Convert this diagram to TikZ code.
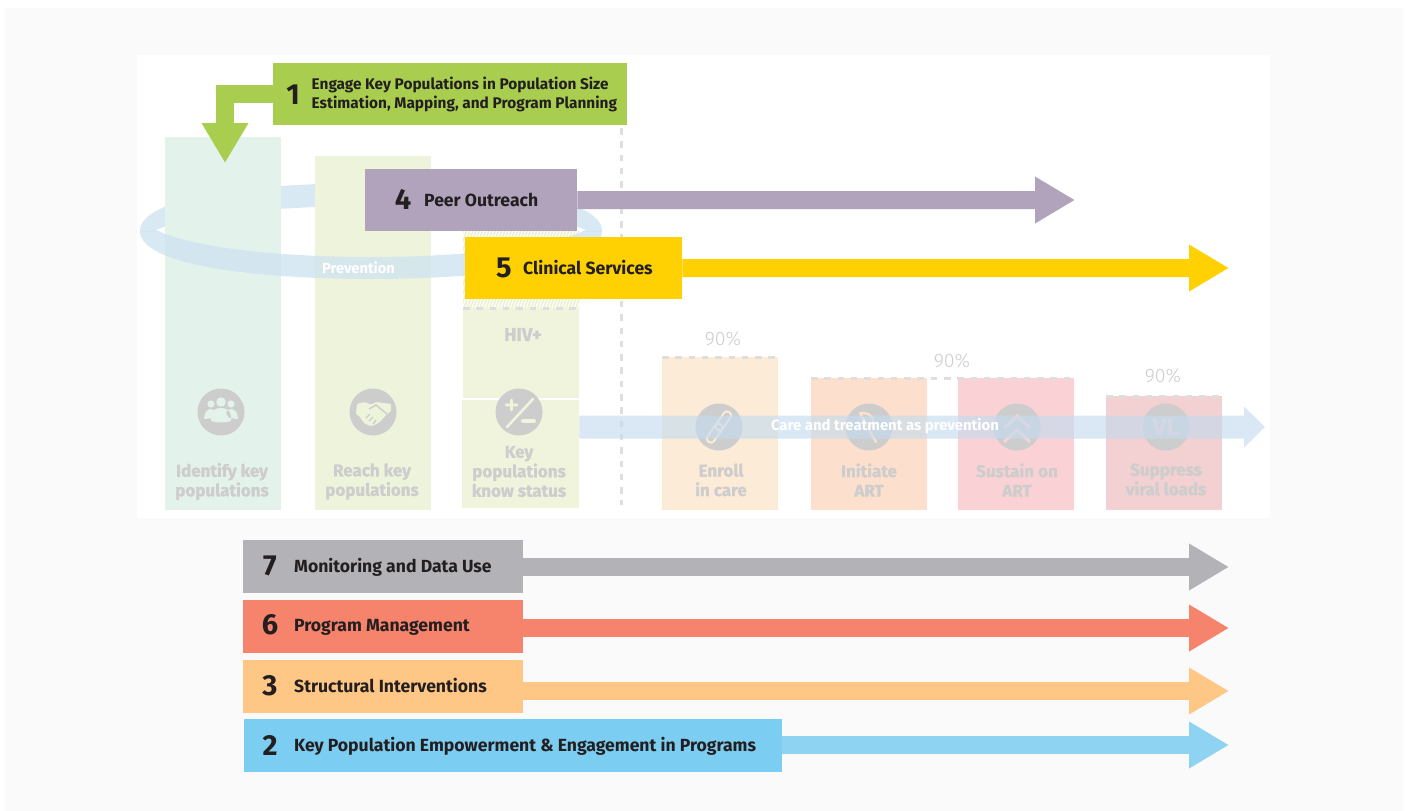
\documentclass[tikz,border=0pt]{standalone}
\usepackage{fontspec}
\setmainfont{Fira Sans}
\newfontfamily\lightface{Fira Sans Light}
\usetikzlibrary{positioning,arrows.meta,patterns.meta}

\definecolor{pagegrey}{HTML}{F9FAF9}
\definecolor{inkdark}{HTML}{231F20}
\definecolor{ghost}{HTML}{CDCDCD}
\definecolor{dashgrey}{HTML}{DEDEDE}
\definecolor{flowblue}{HTML}{D9E9F4}
\definecolor{flowglass}{HTML}{C4DCEE}
\definecolor{ringglass}{HTML}{D0E4F1}
\definecolor{identifybar}{HTML}{E3F2EA}
\definecolor{reachbar}{HTML}{EEF3DC}
\definecolor{statusbar}{HTML}{F1F4DC}
\definecolor{hatchline}{HTML}{ECF0CD}
\definecolor{enrollbar}{HTML}{FCEBD7}
\definecolor{initiatebar}{HTML}{FCDFCD}
\definecolor{sustainbar}{HTML}{FAD2D6}
\definecolor{suppressbar}{HTML}{F3D0D2}
\definecolor{engagegreen}{HTML}{A9CE4F}
\definecolor{peerpurple}{HTML}{B1A3BC}
\definecolor{clinicyellow}{HTML}{FFD102}
\definecolor{monitorgrey}{HTML}{B3B2B6}
\definecolor{managered}{HTML}{F6836B}
\definecolor{structorange}{HTML}{FFC785}
\definecolor{empowerblue}{HTML}{7CCDF2}
\definecolor{empowerflow}{HTML}{8FD3F2}

\tikzset{
  bar/.style={fill=#1, anchor=north west, inner sep=0pt, minimum width=116pt},
  tagbox/.style={fill=#1, anchor=north west, inner sep=0pt, minimum height=53pt},
  flow/.style={draw=#1, line width=18pt, -{Triangle[length=40pt,width=44pt]}},
  numtag/.style={text=inkdark, font=\bfseries\fontsize{29}{29}\selectfont},
  tagtext/.style={text=inkdark, anchor=west, align=left, inner sep=0pt, text height=13pt, text depth=1pt, font=\bfseries\fontsize{17.6}{19}\selectfont},
  caption/.style={text=ghost, align=center, font=\bfseries\addfontfeature{FakeBold=1}\fontsize{17}{19.5}\selectfont},
  pct/.style={text=ghost, font=\lightface\fontsize{19.5}{19.5}\selectfont},
  iconball/.style={fill=ghost, circle, minimum size=47pt, inner sep=0pt},
  target/.style={draw=dashgrey, line width=3pt, dash pattern=on 6.5pt off 6.8pt}
}

% ring band: outer loop with a pointed opening inside
\newcommand{\ringshape}{(140,231) .. controls (140,196) and (260,183) .. (371,183)
  .. controls (482,183) and (602,196) .. (602,231)
  .. controls (602,266) and (482,279) .. (371,279)
  .. controls (260,279) and (140,266) .. (140,231) -- cycle
  (156,230) .. controls (230,198) and (510,198) .. (586,230)
  .. controls (510,266) and (230,266) .. (156,230) -- cycle}

\begin{document}
\begin{tikzpicture}[x=1pt, y=-1pt]
  \useasboundingbox (0,0) rectangle (1408,811);
  \fill[white] (0,0) rectangle (1408,811);
  \fill[pagegrey] (5,8) rectangle (1403,811);
  \fill[white] (137,55) rectangle (1270,518);

  % ring behind the bars
  \begin{scope}
    \clip (100,150) rectangle (700,231);
    \fill[flowblue, even odd rule] \ringshape;
  \end{scope}

  % cascade bars
  \node[bar=identifybar, minimum height=373pt] (identify) at (165,137) {};
  \node[bar=reachbar, minimum height=354pt] (reach) at (315,156) {};
  \fill[pattern={Lines[angle=70,distance=3pt,line width=1.5pt]}, pattern color=hatchline] (463,231) rectangle (579,308);
  \node[bar=statusbar, minimum height=90pt] (hivpos) at (463,308) {};
  \node[bar=statusbar, minimum width=117pt, minimum height=108pt] (status) at (462,400) {};
  \node[bar=enrollbar, minimum height=153pt] (enroll) at (662,357) {};
  \node[bar=initiatebar, minimum height=132pt] (initiate) at (811,378) {};
  \node[bar=sustainbar, minimum height=132pt] (sustain) at (958,378) {};
  \node[bar=suppressbar, minimum height=114pt] (suppress) at (1106,396) {};

  % ring in front of the bars
  \begin{scope}
    \clip (100,231) rectangle (700,300);
    \fill[ringglass, even odd rule, opacity=.8] \ringshape;
  \end{scope}

  % dashed lines
  \draw[target] (621.5,128) -- (621.5,505);
  \draw[target] (hivpos.north west) -- (hivpos.north east);
  \draw[target] (enroll.north west) -- (enroll.north east);
  \draw[target] (initiate.north west) -- (sustain.north east);
  \draw[target] (suppress.north west) -- (suppress.north east);

  \node[pct] (pcta) at (723,339) {90\%};
  \node[pct] (pctb) at (952,361) {90\%};
  \node[pct] (pctc) at (1163,376) {90\%};

  % icons
  \node[iconball] (iconidentify) at (221,412) {};
  \node[iconball] (iconreach) at (373,412) {};
  \node[iconball] (iconstatus) at (519,412) {};
  \node[iconball] (iconenroll) at (719,427) {};
  \node[iconball] (iconinitiate) at (869,427) {};
  \node[iconball] (iconsustain) at (1017,427) {};
  \node[iconball] (iconsuppress) at (1166,427) {};

  % people
  \fill[identifybar]
    (211,404) circle [radius=3.6] (231,404) circle [radius=3.6] (221,402) circle [radius=4.8]
    (204,419) .. controls (204,412) and (208,409) .. (211,409) .. controls (214,409) and (216,411) .. (216,413) -- (213,418) -- cycle
    (238,419) .. controls (238,412) and (234,409) .. (231,409) .. controls (228,409) and (226,411) .. (226,413) -- (229,418) -- cycle
    (211,421) -- (211,416) .. controls (212,410) and (216,408) .. (221,408) .. controls (226,408) and (230,410) .. (231,416) -- (231,421) .. controls (225,423) and (217,423) .. (211,421) -- cycle;

  % handshake
  \fill[reachbar, rounded corners=1pt] (357,404) -- (364,402) -- (371,404.5) -- (376,402) -- (384,403) -- (391,404) -- (391,411)
    -- (386,415) -- (381,421) -- (375,425) -- (370,426) -- (364,423) -- (359,416) -- (356,414) -- cycle;
  \draw[ghost, line width=1.4pt] (369,409) -- (376,405) -- (387,414) (366,418) -- (370,414) (369,421) -- (373,417) (373,424) -- (376,420);

  % plus and minus
  \draw[statusbar, line width=2.6pt, line cap=round] (506,405) -- (517,405) (511.5,400) -- (511.5,410) (507,427) -- (533,399);
  \draw[statusbar, line width=4pt, line cap=round] (523,421) -- (534,421);

  % chain, pill, chevrons, letters
  \draw[enrollbar, line width=2pt, rotate around={55:(719,427)}, rounded corners=3.5pt]
    (701,423) rectangle (722,431) (716,423) rectangle (737,431);
  \draw[initiatebar, line width=2.5pt, line cap=round] (860,413) .. controls (874,412) and (878,424) .. (868,428) -- (860,413) (868,428) -- (876,442);
  \draw[sustainbar, line width=3pt] (1004,428) -- (1017,416) -- (1030,428) (1004,442) -- (1017,430) -- (1030,442);
  \node[text=suppressbar, font=\bfseries\fontsize{25}{25}\selectfont] (vltext) at (1166,427) {VL};

  % bar captions
  \node[caption] (capidentify) at (222,481.5) {Identify key\\populations};
  \node[caption] (capreach) at (372,481.5) {Reach key\\populations};
  \node[caption, font=\bfseries\addfontfeature{FakeBold=1}\fontsize{18.5}{19.5}\selectfont] (caphiv) at (523,334.5) {HIV+};
  \node[caption] (capstatus) at (519,471.5) {Key\\populations\\know status};
  \node[caption] (capenroll) at (721,480) {Enroll\\in care};
  \node[caption] (capinitiate) at (869,480) {Initiate\\ART};
  \node[caption] (capsustain) at (1017,480) {Sustain on\\ART};
  \node[caption] (capsuppress) at (1166,479.5) {Suppress\\viral loads};

  % care arrow
  \coordinate (careend) at (1265,427);
  \begin{scope}[transparency group, opacity=.64]
    \draw[draw=flowglass, line width=23pt, -{Triangle[length=21pt,width=40pt]}] (status.east |- careend) -- (careend);
  \end{scope}
  \node[text=white, font=\bfseries\fontsize{14.9}{14.9}\selectfont] (caretext) at (885,426) {Care and treatment as prevention};
  \node[text=white, font=\bfseries\fontsize{14.7}{14.7}\selectfont] (prevtext) at (358.5,268) {Prevention};

  % tag 1
  \coordinate (engageend) at (225,163);
  \node[tagbox=engagegreen, minimum width=354pt, minimum height=62pt] (engage) at (273,63) {};
  \draw[flow=engagegreen] (engage.west) -| (engageend);
  \node[numtag] (engagenum) at (293,95) {1};
  \node[tagtext, text height=, text depth=, font=\bfseries\fontsize{15.4}{19}\selectfont] (engagetext) at (311.5,94) {Engage Key Populations in Population Size\\Estimation, Mapping, and Program Planning};

  % tag 4
  \coordinate (peerend) at (1075,200);
  \node[tagbox=peerpurple, minimum width=212pt, minimum height=62pt] (peer) at (365,169) {};
  \draw[flow=peerpurple] (peer.east) -- (peerend);
  \node[numtag] (peernum) at (403,199.5) {4};
  \node[tagtext] (peertext) at (424,200) {Peer Outreach};

  % tag 5
  \coordinate (clinicend) at (1229,268);
  \node[tagbox=clinicyellow, minimum width=217pt, minimum height=62pt] (clinic) at (465,237) {};
  \draw[flow=clinicyellow] (clinic.east) -- (clinicend);
  \node[numtag] (clinicnum) at (504,268) {5};
  \node[tagtext] (clinictext) at (523,268) {Clinical Services};

  % lower tags
  \coordinate (monitorend) at (1229,567);
  \node[tagbox=monitorgrey, minimum width=280pt] (monitor) at (243,540) {};
  \draw[flow=monitorgrey] (monitor.east |- monitorend) -- (monitorend);
  \node[numtag] (monitornum) at (270,565.5) {7};
  \node[tagtext] (monitortext) at (294,566) {Monitoring and Data Use};

  \coordinate (manageend) at (1229,628);
  \node[tagbox=managered, minimum width=280pt] (manage) at (243,600) {};
  \draw[flow=managered] (manage.east |- manageend) -- (manageend);
  \node[numtag] (managenum) at (270,624.5) {6};
  \node[tagtext] (managetext) at (294,625) {Program Management};

  \coordinate (structend) at (1229,691);
  \node[tagbox=structorange, minimum width=280pt] (struct) at (243,660) {};
  \draw[flow=structorange] (struct.east |- structend) -- (structend);
  \node[numtag] (structnum) at (270,686) {3};
  \node[tagtext] (structtext) at (294,686) {Structural Interventions};

  \coordinate (empowerend) at (1229,745);
  \node[tagbox=empowerblue, minimum width=538pt] (empower) at (244,719) {};
  \draw[flow=empowerflow] (empower.east |- empowerend) -- (empowerend);
  \node[numtag] (empowernum) at (270,745) {2};
  \node[tagtext] (empowertext) at (294,745) {Key Population Empowerment \& Engagement in Programs};
\end{tikzpicture}
\end{document}
